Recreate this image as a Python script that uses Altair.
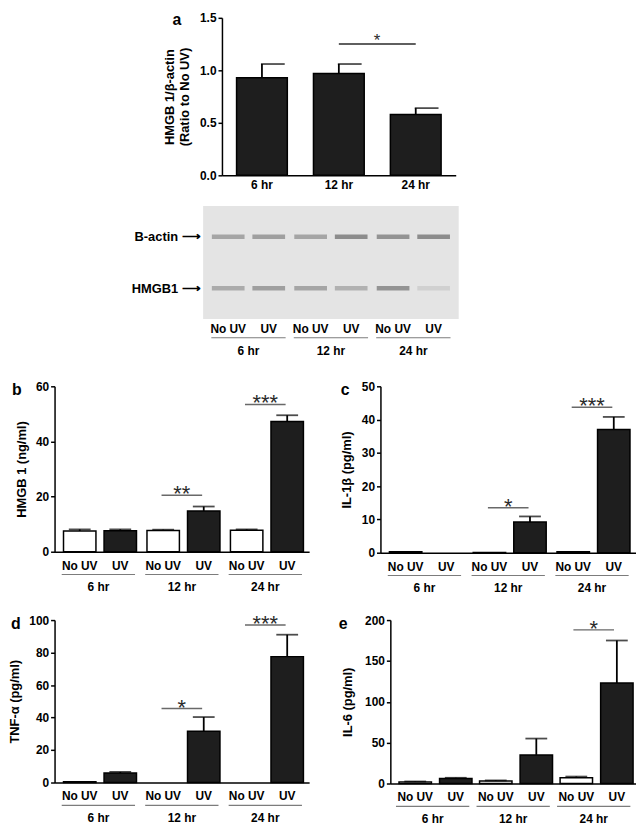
import altair as alt
import pandas as pd

FONT = "Liberation Sans"

times = ["6 hr", "12 hr", "24 hr"]
conds = ["No UV", "UV"]

# panel a: HMGB1 / beta-actin ratio
a_mean = [0.93, 0.97, 0.58]
a_err = [0.13, 0.09, 0.06]
a_sig_from = ["12 hr"]
a_sig_to = ["24 hr"]
a_sig_y = [1.25]
a_sig_label = ["*"]

# western blot band intensities (No UV, UV per time)
blot_proteins = ["B-actin", "HMGB1"]
actin_intensity = [0.50, 0.55, 0.50, 0.70, 0.65, 0.70]
hmgb1_intensity = [0.45, 0.55, 0.50, 0.40, 0.65, 0.15]

# panel b: HMGB 1 (ng/ml)
b_mean = [7.5, 7.6, 7.7, 14.8, 7.8, 47.2]
b_err = [0.6, 0.5, 0.3, 1.6, 0.3, 2.3]
b_sig_time = ["12 hr", "24 hr"]
b_sig_y = [20.5, 53.4]
b_sig_label = ["**", "***"]

# panel c: IL-1beta (pg/ml)
c_mean = [0.3, 0.0, 0.1, 9.2, 0.3, 37.0]
c_err = [0.0, 0.0, 0.0, 1.7, 0.0, 3.8]
c_sig_time = ["12 hr", "24 hr"]
c_sig_y = [13.5, 43.7]
c_sig_label = ["*", "***"]

# panel d: TNF-alpha (pg/ml)
d_mean = [0.5, 5.8, 0.0, 31.5, 0.0, 77.5]
d_err = [0.0, 0.7, 0.0, 8.8, 0.0, 13.5]
d_sig_time = ["12 hr", "24 hr"]
d_sig_y = [45.5, 97.0]
d_sig_label = ["*", "***"]

# panel e: IL-6 (pg/ml)
e_mean = [2.0, 6.0, 3.0, 35.0, 7.0, 123.0]
e_err = [0.5, 1.0, 0.8, 20.0, 1.5, 52.0]
e_sig_time = ["24 hr"]
e_sig_y = [188.0]
e_sig_label = ["*"]


def letter_layer(letter, x, y, baseline="top"):
    return alt.Chart(pd.DataFrame({"t": [letter]})).mark_text(
        font=FONT, fontSize=16, fontWeight="bold", align="left", baseline=baseline, color="black"
    ).encode(x=alt.value(x), y=alt.value(y), text="t:N")


def grouped_panel(letter, title, mean, err, sig_time, sig_y, sig_lab, ymax, ystep,
                  width, height, letter_x, title_pad):
    rows = [{"time": t, "cond": c} for t in times for c in conds]
    df = pd.DataFrame(rows)
    df["mean"] = mean
    df["err"] = err
    df["top"] = df["mean"] + df["err"]
    tdf = pd.DataFrame({"time": times})
    sdf = pd.DataFrame({"time": sig_time, "y": sig_y, "lab": sig_lab})

    xs = alt.X("time:N", sort=times,
               scale=alt.Scale(domain=times, paddingInner=0.15, paddingOuter=0.1),
               axis=alt.Axis(labels=False, ticks=False, title=None, domain=True,
                             domainColor="black", domainWidth=1.5))
    xo = alt.XOffset("cond:N", sort=conds,
                     scale=alt.Scale(domain=conds, paddingInner=0.35, paddingOuter=0))
    yaxis = alt.Axis(values=list(range(0, ymax + 1, ystep)), title=title,
                     titlePadding=title_pad, tickSize=4, labelPadding=2)
    yscale = alt.Scale(domain=[0, ymax], nice=False)

    def yq(f):
        return alt.Y(f, type="quantitative", scale=yscale, axis=yaxis)

    base = alt.Chart(df)
    bars = base.transform_filter("datum.mean > 0").mark_bar(stroke="black", strokeWidth=1.5).encode(
        x=xs, xOffset=xo, y=yq("mean"),
        color=alt.condition("datum.cond == 'UV'", alt.value("#1e1e1e"), alt.value("white")))
    erule = base.transform_filter("datum.err > 0").mark_rule(color="black", strokeWidth=1.8).encode(
        x=xs, xOffset=xo, y=yq("mean"), y2="top:Q")
    ecap = base.transform_filter("datum.err > 0").mark_tick(
        color="black", thickness=1.8, size=22, orient="horizontal").encode(
        x=xs, xOffset=xo, y=yq("top"))
    sline = alt.Chart(sdf).mark_tick(color="#2a2a2a", thickness=1.5, size=41,
                                     orient="horizontal").encode(x=xs, y=yq("y"))
    stext = alt.Chart(sdf).mark_text(font=FONT, fontSize=22, color="#2a2a2a",
                                     baseline="alphabetic", dy=6).encode(
        x=xs, y=yq("y"), text="lab:N")
    clabels = base.mark_text(font=FONT, fontSize=12, fontWeight="bold", color="black",
                             baseline="middle").encode(
        x=xs, xOffset=xo, y=alt.value(height + 14), text="cond:N")
    uline = alt.Chart(tdf).mark_tick(color="#444444", thickness=1.2, size=74,
                                     orient="horizontal").encode(x=xs, y=alt.value(height + 23))
    glabels = alt.Chart(tdf).mark_text(font=FONT, fontSize=12, fontWeight="bold", color="black",
                                       baseline="middle").encode(
        x=xs, y=alt.value(height + 36), text="time:N")
    lt = letter_layer(letter, letter_x, -4)
    return alt.layer(erule, bars, ecap, sline, stext, clabels, uline, glabels, lt).properties(
        width=width, height=height)


# panel a
adf = pd.DataFrame({"time": times, "mean": a_mean, "err": a_err})
adf["top"] = adf["mean"] + adf["err"]
asig = pd.DataFrame({"from": a_sig_from, "to": a_sig_to, "y": a_sig_y, "lab": a_sig_label})
ax_scale = alt.Scale(domain=times, paddingInner=0.34, paddingOuter=0.19)
ax = alt.X("time:N", sort=times, scale=ax_scale,
           axis=alt.Axis(title=None, ticks=False, labelPadding=4, labelAngle=0,
                         domainWidth=1.5))
ay_scale = alt.Scale(domain=[0, 1.5], nice=False)
ay_axis = alt.Axis(values=[0, 0.5, 1.0, 1.5], format=".1f",
                   title=["HMGB 1/β-actin", "(Ratio to No UV)"], titlePadding=8,
                   tickSize=4, labelPadding=2, titleLineHeight=15)


def ayq(f):
    return alt.Y(f, type="quantitative", scale=ay_scale, axis=ay_axis)


abase = alt.Chart(adf)
a_bars = abase.mark_bar(color="#1e1e1e", stroke="black", strokeWidth=1.5).encode(x=ax, y=ayq("mean"))
a_rule = abase.mark_rule(color="black", strokeWidth=1.8).encode(x=ax, y=ayq("mean"), y2="top:Q")
a_cap = abase.mark_tick(color="black", thickness=1.8, size=24, orient="horizontal", xOffset=11).encode(
    x=ax, y=ayq("top"))
a_sline = alt.Chart(asig).mark_rule(color="#2a2a2a", strokeWidth=1.5).encode(
    x=alt.X("from:N", sort=times, scale=ax_scale, bandPosition=0.5),
    x2=alt.X2("to:N", bandPosition=0.5), y=ayq("y"))
a_stext = alt.Chart(asig).mark_text(font=FONT, fontSize=17, color="#2a2a2a",
                                    baseline="alphabetic", dy=2, dx=13).encode(
    x=alt.X("from:N", sort=times, scale=ax_scale, bandPosition=1), y=ayq("y"), text="lab:N")
a_letter = letter_layer("a", -50, 7, baseline="alphabetic")
panel_a = alt.layer(a_rule, a_bars, a_cap, a_sline, a_stext, a_letter).properties(width=236, height=159)

# western blot
blot_rows = []
i = 0
for t in times:
    for c in conds:
        blot_rows.append({"time": t, "cond": c, "protein": "B-actin", "intensity": actin_intensity[i]})
        blot_rows.append({"time": t, "cond": c, "protein": "HMGB1", "intensity": hmgb1_intensity[i]})
        i += 1
bdf = pd.DataFrame(blot_rows)
bx = alt.X("time:N", sort=times, scale=alt.Scale(domain=times, paddingInner=0.1, paddingOuter=0.1),
           axis=None)
bxo = alt.XOffset("cond:N", sort=conds, scale=alt.Scale(domain=conds, paddingInner=0.2, paddingOuter=0.015))
by = alt.Y("protein:N", sort=blot_proteins,
           scale=alt.Scale(type="point", domain=blot_proteins, padding=0.6),
           axis=alt.Axis(title=None, domain=False, ticks=False, labelFontSize=13,
                         labelExpr="datum.label + ' ⟶'", labelPadding=3))
blot_bands = alt.Chart(bdf).transform_calculate(
    g="round(226 - 130 * datum.intensity)"
).transform_calculate(
    col="'rgb(' + datum.g + ',' + datum.g + ',' + datum.g + ')'"
).mark_tick(orient="horizontal", size=33, thickness=4.5, opacity=0.95).encode(
    x=bx, xOffset=bxo, y=by, color=alt.Color("col:N", scale=None))
blot_lane = pd.DataFrame([{"time": t, "cond": c} for t in times for c in conds])
blot_clabels = alt.Chart(blot_lane).mark_text(font=FONT, fontSize=12, fontWeight="bold",
                                              color="black", baseline="middle").encode(
    x=bx, xOffset=bxo, y=alt.value(114 + 10), text="cond:N")
blot_t = pd.DataFrame({"time": times})
blot_uline = alt.Chart(blot_t).mark_tick(color="#444444", thickness=1.2, size=75,
                                         orient="horizontal").encode(x=bx, y=alt.value(114 + 19))
blot_glabels = alt.Chart(blot_t).mark_text(font=FONT, fontSize=12, fontWeight="bold",
                                           color="black", baseline="middle").encode(
    x=bx, y=alt.value(114 + 32), text="time:N")
blot = alt.layer(blot_bands, blot_clabels, blot_uline, blot_glabels).properties(
    width=258, height=114, view=alt.ViewBackground(fill="#e4e4e4", strokeWidth=0))


def spacer(w):
    return alt.Chart(pd.DataFrame({"v": [0]})).mark_point(opacity=0).encode(
        x=alt.value(0), y=alt.value(0)).properties(width=w, height=10)


panel_b = grouped_panel("b", "HMGB 1 (ng/ml)", b_mean, b_err, b_sig_time, b_sig_y, b_sig_label,
                        60, 20, 257, 167, -43, 7)
panel_c = grouped_panel("c", "IL-1β (pg/ml)", c_mean, c_err, c_sig_time, c_sig_y, c_sig_label,
                        50, 10, 258, 168, -40, 8)
panel_d = grouped_panel("d", "TNF-α (pg/ml)", d_mean, d_err, d_sig_time, d_sig_y, d_sig_label,
                        100, 20, 257, 164, -44, 7)
panel_e = grouped_panel("e", "IL-6 (pg/ml)", e_mean, e_err, e_sig_time, e_sig_y, e_sig_label,
                        200, 50, 248, 165, -52, 10)

top = alt.vconcat(alt.hconcat(spacer(110), panel_a, spacing=0),
                  alt.hconcat(spacer(77), blot, spacing=0), spacing=13)
bottom = alt.vconcat(alt.hconcat(panel_b, panel_c, spacing=31),
                     alt.hconcat(panel_d, panel_e, spacing=30), spacing=18)

chart = alt.vconcat(top, bottom, spacing=24).properties(
    padding=0, background="white"
).configure_view(strokeWidth=0).configure_axis(
    labelFont=FONT, titleFont=FONT, labelColor="black", titleColor="black",
    domainColor="black", tickColor="black", labelFontWeight="bold", titleFontWeight="bold",
    grid=False, labelFontSize=12, titleFontSize=13, domainWidth=1.5, tickWidth=1.5
)

chart.save("out.html", embed_options={"renderer": "svg", "actions": False})
